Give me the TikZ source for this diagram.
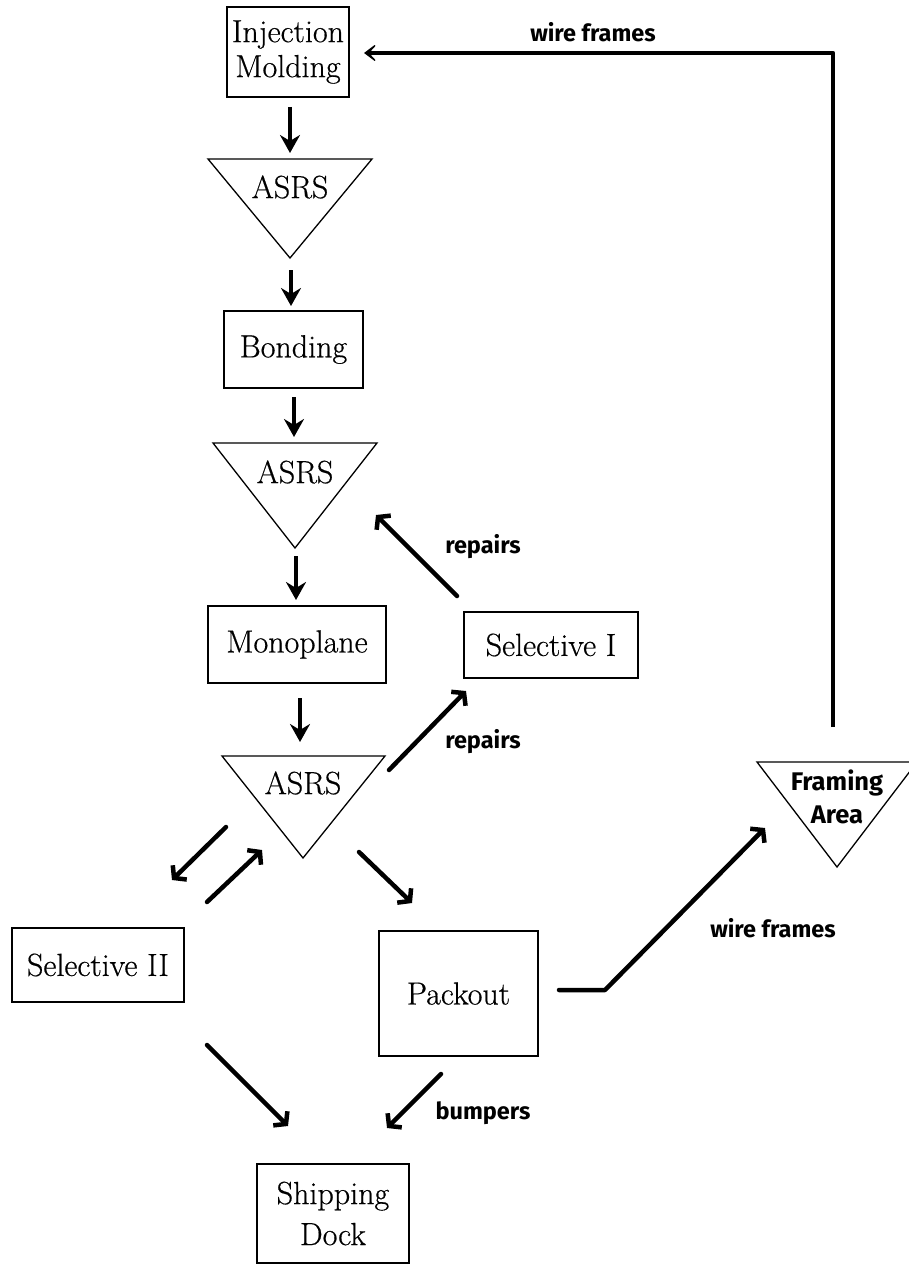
\documentclass[tikz,border=0pt]{standalone}
\usepackage{fontspec}
\newfontfamily\lblfont{Fira Sans}
\newfontfamily\boxfont{Latin Modern Roman}[FakeBold=0.5]
\usetikzlibrary{arrows.meta}
\begin{document}
\begin{tikzpicture}[x=1pt,y=-1pt,
  box/.style={draw, line width=1.6pt, inner sep=0pt, align=center,
    font=\boxfont\fontsize{32}{35}\selectfont},
  tri/.style={draw, line width=1.3pt, line join=miter},
  ttl/.style={font=\boxfont\fontsize{32}{35}\selectfont, inner sep=0pt, align=center},
  flow/.style={line width=4pt, -{Stealth[length=18pt,width=20pt,inset=6pt]}},
  diag/.style={line width=4.5pt, line cap=round, -{Straight Barb[length=8pt,width=20pt]}},
  feed/.style={line width=4.5pt, line join=round, -{Stealth[length=16pt,width=24pt,inset=11pt]}},
  lbl/.style={font=\lblfont\bfseries\fontsize{23.5}{27}\selectfont, inner sep=0pt},
]
\useasboundingbox (0,0) rectangle (909,1265);

% process boxes
\node[box, minimum width=122pt, minimum height=90pt] (inj) at (288,52) {Injection\\Molding};
\node[box, minimum width=139pt, minimum height=77pt] (bond) at (293.5,349.5) {Bonding};
\node[box, minimum width=178pt, minimum height=77pt] (mono) at (297,644.5) {Monoplane};
\node[box, minimum width=174pt, minimum height=66pt] (sel1) at (551,645) {Selective I};
\node[box, minimum width=172pt, minimum height=74pt] (sel2) at (98,965) {Selective II};
\node[box, minimum width=159pt, minimum height=125pt] (pack) at (458.5,993.5) {Packout};
\node[box, minimum width=152pt, minimum height=99pt] (ship) at (333,1213.5) {Shipping\\[6pt]Dock};

% storage triangles
\draw[tri] (208,159) -- (372,159) -- (290,258) -- cycle;
\node[ttl] (asrs1) at (290,187) {ASRS};
\draw[tri] (213,443) -- (377,443) -- (295,548) -- cycle;
\node[ttl] (asrs2) at (295,472) {ASRS};
\draw[tri] (222,756) -- (385,756) -- (303,858) -- cycle;
\node[ttl] (asrs3) at (303,783) {ASRS};
\draw[tri] (757,762) -- (917,762) -- (837,867) -- cycle;
\node[lbl, font=\lblfont\bfseries\fontsize{25.5}{33}\selectfont, align=center] (frame) at (837,797) {Framing\\Area};

% connector end points
\coordinate (a1s) at (290,107);  \coordinate (a1e) at (290,153);
\coordinate (a2s) at (291,270);  \coordinate (a2e) at (291,306);
\coordinate (a3s) at (294,397);  \coordinate (a3e) at (294,437);
\coordinate (a4s) at (296,556);  \coordinate (a4e) at (296,600);
\coordinate (a5s) at (300,698);  \coordinate (a5e) at (300,742);
\coordinate (r1s) at (457,596);  \coordinate (r1e) at (376,515);
\coordinate (r2s) at (389,770);  \coordinate (r2e) at (466,691);
\coordinate (d1s) at (226,827);  \coordinate (d1e) at (172,880);
\coordinate (d2s) at (207,902);  \coordinate (d2e) at (262,850);
\coordinate (d3s) at (359,852);  \coordinate (d3e) at (412,903);
\coordinate (d4s) at (207,1045); \coordinate (d4e) at (288,1126);
\coordinate (d5s) at (441,1074); \coordinate (d5e) at (387,1128);
\coordinate (w1s) at (559,990);  \coordinate (w1k) at (605,990);  \coordinate (w1e) at (765,828);
\coordinate (w2s) at (833,727);  \coordinate (w2k) at (833,53);   \coordinate (w2e) at (364,53);

% main line
\draw[flow] (a1s) -- (a1e);
\draw[flow] (a2s) -- (a2e);
\draw[flow] (a3s) -- (a3e);
\draw[flow] (a4s) -- (a4e);
\draw[flow] (a5s) -- (a5e);

% repairs and side flows
\draw[diag] (r1s) -- (r1e);
\draw[diag] (r2s) -- (r2e);
\draw[diag] (d1s) -- (d1e);
\draw[diag] (d2s) -- (d2e);
\draw[diag] (d3s) -- (d3e);
\draw[diag] (d4s) -- (d4e);
\draw[diag] (d5s) -- (d5e);

% wire frame loop
\draw[diag, line join=round] (w1s) -- (w1k) -- (w1e);
\draw[feed] (w2s) -- (w2k) -- (w2e);

% flow labels
\node[lbl] (lwf1) at (593,32) {wire frames};
\node[lbl] (lrp1) at (483,547) {repairs};
\node[lbl] (lrp2) at (483,742) {repairs};
\node[lbl] (lwf2) at (773,928) {wire frames};
\node[lbl] (lbmp) at (483,1113) {bumpers};
\end{tikzpicture}
\end{document}
